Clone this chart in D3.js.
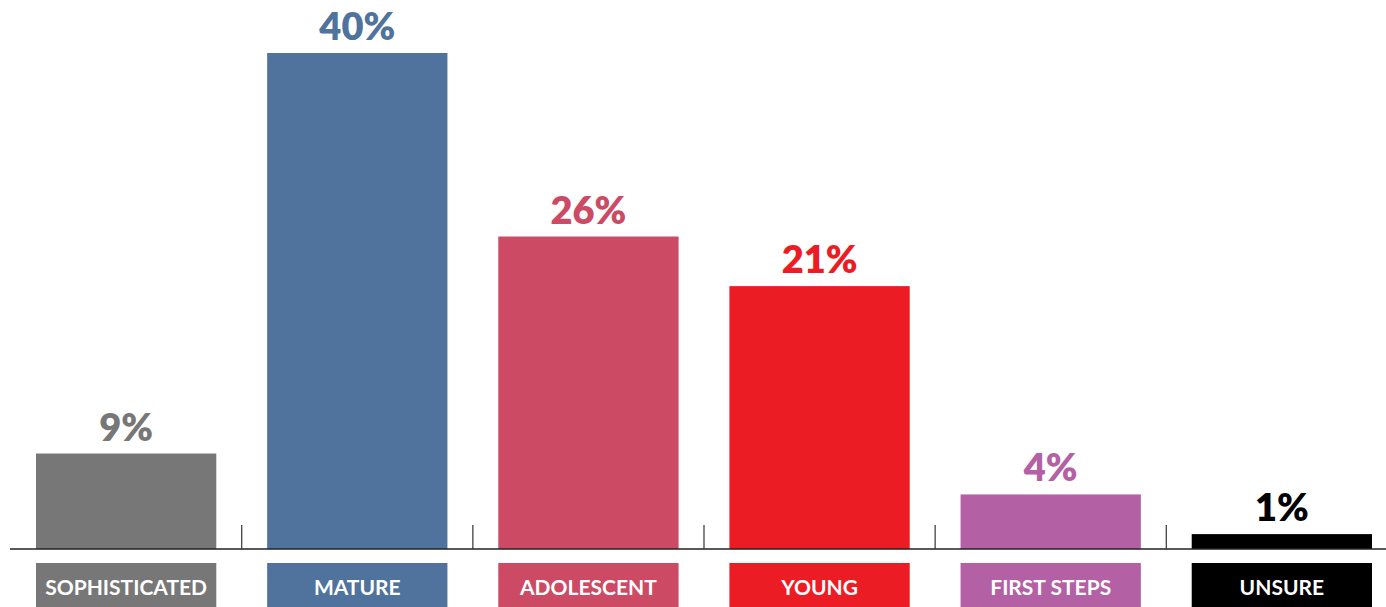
<!DOCTYPE html>
<html>
<head>
<meta charset="utf-8">
<script src="https://cdn.jsdelivr.net/npm/d3@7"></script>
<style>
  body { margin: 0; background: #fff; }
  svg { display: block; font-family: Lato, "Open Sans", sans-serif; }
</style>
</head>
<body>
<div id="chart"></div>
<script>
// categories, bar heights and printed labels
const categories = ['SOPHISTICATED', 'MATURE', 'ADOLESCENT', 'YOUNG', 'FIRST STEPS', 'UNSURE'];
const barValues = [7.7, 40, 25.2, 21.2, 4.4, 1.2];
const valueLabels = ['9%', '40%', '26%', '21%', '4%', '1%'];
const colors = ['#777777', '#50739d', '#cc4a63', '#ec1c24', '#b360a4', '#000000'];

const width = 1386;
const height = 607;
const baseline = 549;

const data = categories.map((c, i) => ({
    category: c,
    value: barValues[i],
    label: valueLabels[i],
    color: colors[i]
}));

const x = d3.scaleBand()
    .domain(categories)
    .range([36, 1372])
    .paddingInner(0.22)
    .paddingOuter(0);

const y = d3.scaleLinear()
    .domain([0, 40])
    .range([baseline, 53]);

const svg = d3.select('#chart').append('svg')
    .attr('width', width)
    .attr('height', height);

// bars
svg.selectAll('rect.bar')
        .data(data)
    .enter().append('rect')
        .attr('class', 'bar')
        .attr('x', d => x(d.category))
        .attr('y', d => y(d.value))
        .attr('width', x.bandwidth())
        .attr('height', d => baseline - y(d.value))
        .attr('fill', d => d.color);

// value labels
svg.selectAll('text.value')
        .data(data)
    .enter().append('text')
        .attr('class', 'value')
        .attr('x', d => x(d.category) + x.bandwidth() / 2)
        .attr('y', d => y(d.value) - 13)
        .attr('text-anchor', 'middle')
        .attr('font-size', 38)
        .attr('font-weight', 800)
        .attr('fill', d => d.color)
        .text(d => d.label);

// baseline
svg.append('line')
    .attr('x1', 10)
    .attr('x2', width)
    .attr('y1', baseline)
    .attr('y2', baseline)
    .attr('stroke', '#222')
    .attr('stroke-width', 1.5);

// separator ticks between bars
const gap = x.step() - x.bandwidth();
svg.selectAll('line.sep')
        .data(categories.slice(1))
    .enter().append('line')
        .attr('class', 'sep')
        .attr('x1', d => x(d) - gap / 2)
        .attr('x2', d => x(d) - gap / 2)
        .attr('y1', baseline - 24)
        .attr('y2', baseline)
        .attr('stroke', '#333')
        .attr('stroke-width', 1.2);

// category label boxes
const boxes = svg.selectAll('g.cat')
        .data(data)
    .enter().append('g')
        .attr('class', 'cat')
        .attr('transform', d => 'translate(' + x(d.category) + ',563)');

boxes.append('rect')
    .attr('width', x.bandwidth())
    .attr('height', 44)
    .attr('fill', d => d.color);

boxes.append('text')
    .attr('x', x.bandwidth() / 2)
    .attr('y', 32)
    .attr('text-anchor', 'middle')
    .attr('font-size', 21)
    .attr('font-weight', 'bold')
    .attr('fill', '#fff')
    .text(d => d.category);
</script>
</body>
</html>
